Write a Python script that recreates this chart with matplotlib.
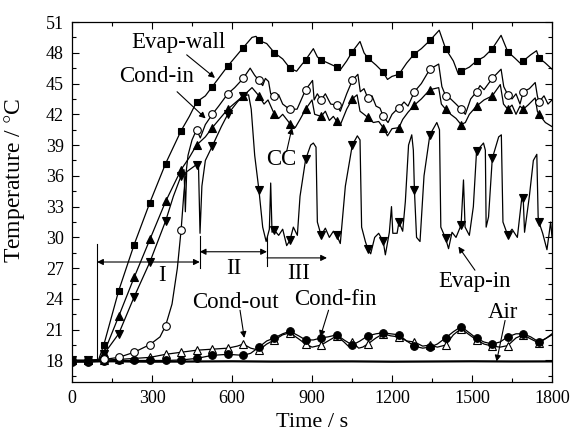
import numpy as np
import matplotlib
matplotlib.use('Agg')
import matplotlib.pyplot as plt
from matplotlib.ticker import MultipleLocator

plt.rcParams['font.family'] = ['Liberation Serif', 'DejaVu Serif']
plt.rcParams['mathtext.fontset'] = 'stix'

# times where the symbols sit (s)
mark_t = [0, 61, 119, 175, 233, 292, 351, 409, 467, 526, 584, 642, 701, 759, 817, 876,
          934, 993, 1051, 1109, 1167, 1226, 1284, 1342, 1401, 1459, 1517, 1576, 1634, 1692, 1751]

# Evap-wall (filled squares)
ew_t = [0, 61, 100, 119, 175, 233, 292, 351, 409, 440, 467, 500, 526, 584, 642, 675, 690, 701, 730, 759,
        790, 817, 842, 860, 876, 905, 920, 934, 960, 993, 1005, 1030, 1051, 1080, 1095, 1109, 1140, 1167, 1183, 1200,
        1226, 1255, 1284, 1310, 1342, 1377, 1401, 1430, 1449, 1459, 1490, 1517, 1545, 1576, 1609, 1634, 1660, 1680, 1692, 1720,
        1742, 1751, 1775, 1800]
ew_v = [18.0, 18.0, 18.1, 19.5, 24.8, 29.3, 33.4, 37.2, 40.4, 41.8, 43.2, 43.8, 44.7, 46.7, 48.5, 49.5, 49.6, 49.2, 48.9, 48.0,
        47.4, 46.5, 46.2, 46.8, 47.3, 48.4, 47.6, 47.3, 47.0, 46.6, 46.3, 47.2, 48.1, 49.1, 48.0, 47.5, 46.8, 46.1, 45.4, 45.7,
        45.9, 47.0, 47.9, 48.4, 49.2, 50.2, 48.4, 47.2, 45.9, 46.2, 46.6, 47.2, 47.6, 48.4, 49.7, 48.1, 47.5, 47.0, 47.2, 47.8,
        48.2, 47.5, 47.0, 46.4]

# Cond-in (open circles)
ci_t = [0, 61, 119, 175, 233, 292, 330, 351, 375, 395, 409, 420, 435, 450, 467, 481, 500, 526, 550, 584,
        610, 642, 668, 685, 701, 715, 725, 737, 745, 759, 775, 790, 805, 817, 844, 876, 902, 908, 920, 934,
        950, 970, 993, 1006, 1030, 1051, 1072, 1081, 1095, 1109, 1125, 1140, 1155, 1167, 1185, 1200, 1219, 1226, 1245, 1260,
        1284, 1310, 1342, 1375, 1387, 1401, 1420, 1440, 1459, 1475, 1495, 1517, 1530, 1545, 1576, 1609, 1619, 1634, 1650, 1665,
        1680, 1692, 1715, 1737, 1745, 1751, 1770, 1785, 1800]
ci_v = [18.0, 18.0, 18.1, 18.3, 18.8, 19.55, 20.3, 21.4, 23.5, 27.0, 30.7, 34.5, 38.0, 39.5, 40.5, 39.7, 41.0, 42.0, 42.8, 44.0,
        44.6, 45.5, 46.5, 45.8, 45.3, 44.8, 45.5, 45.2, 44.0, 43.8, 43.9, 43.0, 42.7, 42.5, 42.5, 44.4, 45.3, 43.4, 44.0, 43.4,
        44.0, 43.0, 42.9, 42.3, 44.0, 45.3, 45.9, 44.2, 44.5, 43.6, 43.8, 42.8, 42.6, 41.8, 41.2, 42.0, 42.5, 42.6, 43.2, 42.8,
        44.2, 45.0, 46.4, 46.9, 44.7, 43.8, 43.5, 43.0, 42.5, 42.0, 43.5, 44.2, 44.8, 44.4, 45.5, 46.4, 44.7, 43.9, 43.5, 44.0,
        43.0, 44.2, 44.5, 45.1, 43.8, 43.2, 43.8, 43.0, 43.4]

# CC (filled up triangles)
cc_t = [0, 61, 100, 119, 175, 233, 292, 351, 409, 440, 467, 500, 526, 584, 642, 675, 701, 720, 735, 759,
        775, 790, 817, 837, 855, 876, 900, 910, 934, 950, 965, 980, 993, 1005, 1030, 1051, 1069, 1080, 1095, 1109,
        1130, 1150, 1167, 1183, 1200, 1226, 1240, 1260, 1284, 1310, 1342, 1375, 1385, 1401, 1420, 1440, 1459, 1475, 1490, 1517,
        1545, 1576, 1606, 1618, 1634, 1650, 1665, 1680, 1692, 1710, 1737, 1745, 1751, 1775, 1800]
cc_v = [18.0, 18.0, 18.0, 18.7, 22.3, 26.1, 29.8, 33.5, 36.6, 37.8, 39.0, 39.8, 40.7, 42.5, 43.8, 44.6, 43.8, 43.0, 43.4, 42.0,
        41.6, 42.0, 41.1, 40.7, 41.5, 42.5, 43.4, 42.0, 41.8, 42.3, 41.4, 41.8, 41.3, 40.9, 42.5, 43.5, 43.9, 42.3, 42.0, 41.7,
        41.2, 41.3, 40.7, 39.9, 40.6, 40.7, 41.5, 42.2, 42.9, 43.5, 44.4, 44.6, 43.0, 42.5, 42.0, 41.6, 41.0, 41.2, 42.0, 42.8,
        43.4, 43.8, 44.9, 43.0, 42.5, 42.9, 42.0, 42.8, 42.5, 42.9, 43.6, 42.3, 42.0, 41.2, 40.8]

# Evap-in (filled down triangles)
ei_t = [0, 61, 100, 119, 175, 233, 292, 351, 380, 409, 420, 425, 430, 467, 474, 480, 487, 500, 526, 560,
        584, 620, 642, 662, 672, 685, 701, 715, 728, 740, 745, 750, 759, 775, 790, 805, 817, 830, 845, 855,
        876, 895, 905, 915, 920, 934, 950, 965, 980, 993, 1006, 1025, 1051, 1070, 1080, 1086, 1100, 1109, 1120, 1135,
        1150, 1167, 1175, 1190, 1198, 1203, 1219, 1226, 1240, 1250, 1262, 1274, 1280, 1284, 1292, 1305, 1320, 1342, 1368, 1378,
        1383, 1401, 1412, 1425, 1440, 1459, 1468, 1474, 1490, 1505, 1517, 1543, 1550, 1553, 1562, 1576, 1600, 1610, 1616, 1634,
        1650, 1670, 1686, 1692, 1697, 1715, 1730, 1743, 1748, 1751, 1765, 1781, 1795, 1800]
ei_v = [18.0, 18.0, 18.0, 18.6, 20.6, 24.2, 27.6, 31.6, 34.0, 36.0, 36.6, 32.5, 36.4, 37.1, 37.3, 30.4, 35.0, 37.5, 38.9, 40.8,
        42.0, 43.2, 43.8, 43.9, 42.5, 38.0, 34.6, 31.0, 29.6, 30.8, 35.3, 30.5, 30.7, 30.2, 30.8, 29.2, 29.7, 31.0, 30.2, 34.0,
        37.6, 39.0, 39.2, 38.8, 31.5, 30.2, 30.9, 30.0, 30.6, 30.2, 29.4, 35.0, 39.0, 39.9, 39.5, 31.0, 29.6, 28.9, 28.4, 30.0,
        30.4, 29.6, 28.3, 30.5, 33.0, 30.4, 30.4, 31.5, 30.6, 33.5, 39.0, 40.0, 38.5, 34.6, 30.0, 29.6, 36.0, 40.0, 41.2, 40.5,
        31.0, 29.9, 28.9, 30.5, 30.0, 31.2, 35.6, 31.0, 30.2, 33.0, 38.4, 39.2, 38.5, 31.0, 32.0, 37.7, 39.8, 40.0, 31.5, 30.2,
        30.8, 30.0, 33.7, 33.8, 30.5, 34.0, 37.5, 38.1, 32.0, 31.5, 30.4, 28.8, 31.5, 30.0]

# Cond-out (open up triangles)
co_t = [0, 61, 119, 175, 233, 292, 351, 409, 467, 526, 584, 620, 642, 670, 701, 730, 759, 790, 817, 850,
        876, 900, 934, 960, 993, 1020, 1040, 1051, 1075, 1090, 1109, 1140, 1167, 1195, 1226, 1255, 1284, 1315, 1342, 1370,
        1401, 1430, 1459, 1490, 1517, 1545, 1576, 1605, 1634, 1665, 1692, 1720, 1751, 1780, 1800]
co_v = [18.0, 18.0, 18.05, 18.1, 18.2, 18.3, 18.6, 18.8, 19.0, 19.1, 19.2, 19.4, 19.6, 19.2, 19.0, 19.6, 20.0, 20.5, 20.7, 20.1,
        19.6, 19.3, 19.5, 19.9, 20.4, 19.8, 19.3, 19.8, 19.2, 19.3, 19.6, 20.2, 20.6, 20.4, 20.3, 19.9, 19.8, 19.4, 19.5, 19.3,
        19.5, 20.5, 21.1, 20.5, 20.0, 19.6, 19.4, 19.3, 19.45, 20.2, 20.5, 20.1, 19.7, 20.2, 20.6]

# Cond-fin (filled circles)
cf_t = [0, 61, 119, 175, 233, 292, 351, 409, 467, 526, 584, 642, 670, 701, 730, 759, 790, 817, 850, 876,
        905, 934, 960, 993, 1020, 1051, 1080, 1109, 1140, 1167, 1195, 1226, 1255, 1284, 1315, 1342, 1370, 1401, 1430, 1459,
        1490, 1517, 1545, 1576, 1605, 1634, 1665, 1692, 1720, 1751, 1780, 1800]
cf_v = [17.85, 17.85, 17.95, 18.0, 18.0, 18.0, 18.0, 18.05, 18.2, 18.5, 18.6, 18.5, 18.7, 19.3, 19.9, 20.2, 20.6, 20.85, 20.4, 20.0,
        20.0, 20.2, 20.3, 20.5, 20.0, 19.5, 19.9, 20.4, 20.6, 20.7, 20.6, 20.5, 19.9, 19.4, 19.2, 19.3, 19.6, 20.2, 20.8, 21.3,
        20.7, 20.15, 19.8, 19.6, 19.8, 20.3, 20.6, 20.6, 20.3, 19.8, 20.2, 20.5]

# Air (no symbols)
air_t = [0, 150, 300, 450, 600, 750, 900, 1050, 1200, 1350, 1500, 1650, 1800]
air_v = [17.9, 17.92, 17.88, 17.9, 17.92, 17.89, 17.9, 17.91, 17.88, 17.9, 17.92, 17.9, 17.91]

fig, ax = plt.subplots(figsize=(5.87, 4.34), dpi=100)
fig.subplots_adjust(left=0.1227, right=0.9404, bottom=0.1198, top=0.9493)


def draw(t, v, marker, mfc, ms):
    t = np.array(t)
    v = np.array(v)
    sel = list(np.isin(t, mark_t))
    ax.plot(t, v, color='k', lw=0.9, marker=marker, ms=ms, mfc=mfc, mec='k', mew=0.8,
            markevery=sel)


ax.plot(air_t, air_v, color='k', lw=1.6)
draw(co_t, co_v, '^', 'white', 6)
draw(cf_t, cf_v, 'o', 'k', 5.5)
draw(ei_t, ei_v, 'v', 'k', 6)
draw(cc_t, cc_v, '^', 'k', 6)
draw(ci_t, ci_v, 'o', 'white', 5.5)
draw(ew_t, ew_v, 's', 'k', 5)

ax.set_xlim(0, 1800)
ax.set_ylim(15.9, 51)
ax.xaxis.set_major_locator(MultipleLocator(300))
ax.xaxis.set_minor_locator(MultipleLocator(150))
ax.yaxis.set_major_locator(MultipleLocator(3))
ax.yaxis.set_minor_locator(MultipleLocator(1.5))
ax.tick_params(which='both', direction='in', top=True, right=True, labelsize=13, pad=6)
ax.tick_params(which='major', length=5, width=0.8)
ax.tick_params(which='minor', length=3, width=0.8)
for s in ax.spines.values():
    s.set_linewidth(0.9)

ax.set_xlabel('Time / s', fontsize=16)
ax.set_ylabel('Temperature / $\\degree$C', fontsize=17)
ax.xaxis.set_label_coords(0.5, -0.085)
ax.yaxis.set_label_coords(-0.093, 0.56)

# stage markers
ax.plot([94, 94], [17.9, 29.4], color='k', lw=0.8)
ax.plot([479, 479], [27.0, 30.1], color='k', lw=0.8)
ax.plot([731, 731], [27.2, 30.0], color='k', lw=0.8)
aprops = dict(color='k', lw=0.8, mutation_scale=9, shrinkA=0, shrinkB=0)
ax.annotate('', xy=(479, 27.6), xytext=(94, 27.6), arrowprops=dict(arrowstyle='<|-|>', **aprops))
ax.annotate('', xy=(731, 28.6), xytext=(479, 28.6), arrowprops=dict(arrowstyle='<|-|>', **aprops))
ax.annotate('', xy=(956, 28.0), xytext=(731, 28.0), arrowprops=dict(arrowstyle='-|>', **aprops))
ax.text(338, 26.3, 'I', fontsize=16.5, ha='center', va='center')
ax.text(605, 27.0, 'II', fontsize=16.5, ha='center', va='center')
ax.text(850, 26.5, 'III', fontsize=16.5, ha='center', va='center')

# series labels
labels = [('Evap-wall', (398, 49.0), (430, 47.8), (536, 45.55)),
          ('Cond-in', (317, 45.7), (394, 44.2), (501, 41.6)),
          ('CC', (786, 37.6), (805, 38.4), (825, 40.7)),
          ('Evap-in', (1511, 25.7), (1511, 26.8), (1449, 29.1)),
          ('Cond-out', (611, 23.7), (630, 22.9), (646, 20.2)),
          ('Cond-fin', (987, 23.9), (962, 22.9), (931, 20.3)),
          ('Air', (1617, 22.7), (1624, 21.9), (1592, 17.9))]
for name, pos, start, tip in labels:
    ax.text(pos[0], pos[1], name, fontsize=16.5, ha='center', va='center')
    ax.annotate('', xy=tip, xytext=start, arrowprops=dict(arrowstyle='-|>', **aprops))

plt.savefig('out.png', dpi=100)
